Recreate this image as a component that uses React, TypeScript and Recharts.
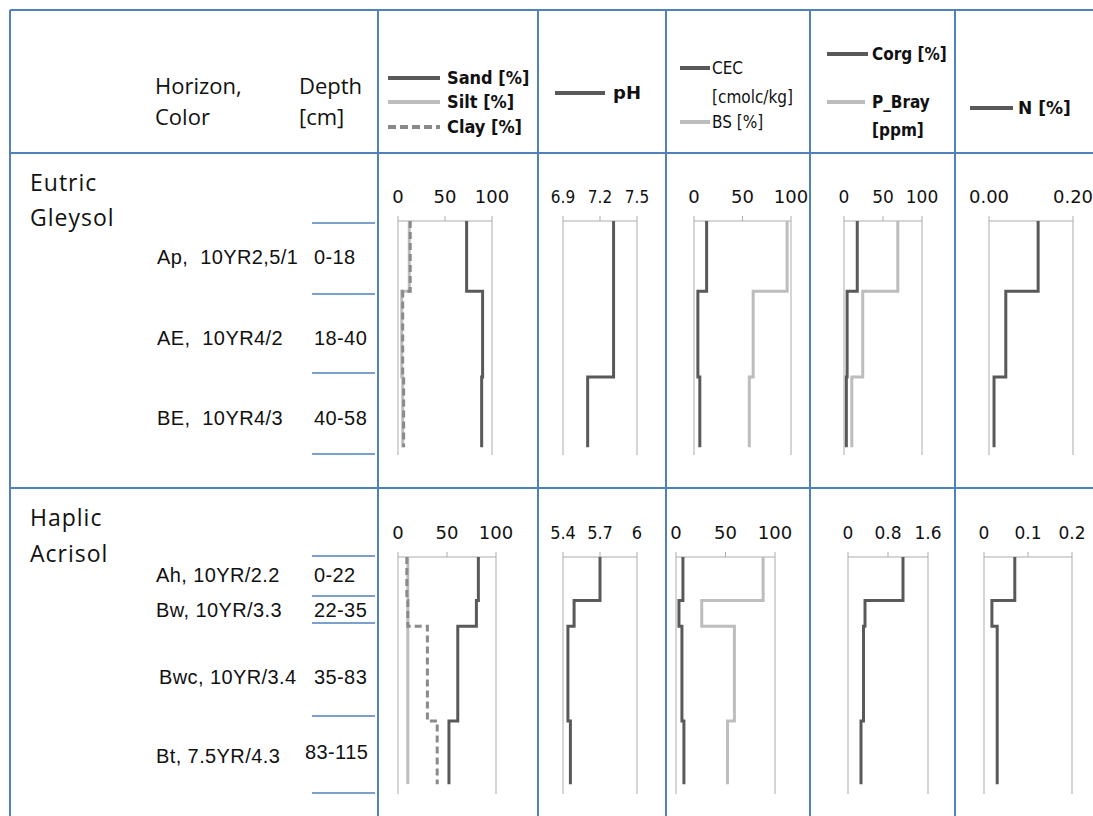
import { ScatterChart, Scatter, XAxis, YAxis, ReferenceLine } from "recharts";

// depth boundaries [cm] and values per horizon
const GLEY_DEPTH = [0, 18, 40, 58];
const GLEY_SAND = [73, 90, 89];
const GLEY_SILT = [12, 4, 5];
const GLEY_CLAY = [13, 5, 6];
const GLEY_PH = [7.31, 7.31, 7.1];
const GLEY_CEC = [13, 4, 6];
const GLEY_BS = [96, 61, 57];
const GLEY_CORG = [17, 4, 3];
const GLEY_PBRAY = [69, 24, 10];
const GLEY_N = [0.117, 0.04, 0.012];

const ACRI_DEPTH = [0, 22, 35, 83, 115];
const ACRI_SAND = [82, 80, 61, 52];
const ACRI_SILT = [10, 10, 10, 10];
const ACRI_CLAY = [9, 10, 30, 40];
const ACRI_PH = [5.7, 5.49, 5.44, 5.46];
const ACRI_CEC = [7, 3, 6, 8];
const ACRI_BS = [88, 26, 59, 52];
const ACRI_CORG = [1.1, 0.34, 0.31, 0.26];
const ACRI_N = [0.07, 0.018, 0.03, 0.03];

const GLEY_HORIZONS = ["Ap,\u00a0 10YR2,5/1", "AE,\u00a0 10YR4/2", "BE,\u00a0 10YR4/3"];
const GLEY_RANGES = ["0-18", "18-40", "40-58"];
const ACRI_HORIZONS = ["Ah, 10YR/2.2", "Bw, 10YR/3.3", "Bwc, 10YR/3.4", "Bt, 7.5YR/4.3"];
const ACRI_RANGES = ["0-22", "22-35", "35-83", "83-115"];

const DARK = "#595959";
const LIGHT = "#BDBDBD";
const DASH = "#8A8A8A";
const AXIS = "#ABABAB";
const BLUE = "#4F81BD";
const TEXT = "#111";

const steps = (depths: number[], vals: number[]) =>
  vals.flatMap((v, i) => [
    { v, d: depths[i] },
    { v, d: depths[i + 1] },
  ]);

type Series = { vals: number[]; color: string; dash?: string };

function Profile({
  x0, x1, yTop, yBot, domain, ticks, fmt, depths, depthMax, series, font, size,
}: {
  x0: number; x1: number; yTop: number; yBot: number;
  domain: [number, number]; ticks: number[]; fmt: (n: number) => string;
  depths: number[]; depthMax: number; series: Series[]; font?: string; size?: number;
}) {
  const ML = 22, MR = 26, AX = 40, MB = 4;
  const w = x1 - x0 + ML + MR;
  const h = yBot - yTop + AX + MB;
  return (
    <div style={{ position: "absolute", left: x0 - ML, top: yTop - AX }}>
      <ScatterChart width={w} height={h} margin={{ top: 0, right: MR, bottom: MB, left: ML }}>
        <XAxis
          type="number" dataKey="v" domain={domain} ticks={ticks} orientation="top"
          height={AX} tickSize={5} tickMargin={13} interval={0} allowDataOverflow
          axisLine={{ stroke: AXIS }} tickLine={{ stroke: AXIS }}
          tick={{ fill: TEXT, fontSize: size ?? 18, fontFamily: font ?? "DejaVu Sans" }}
          tickFormatter={fmt}
        />
        <YAxis type="number" dataKey="d" domain={[0, depthMax]} reversed hide />
        <ReferenceLine x={domain[0]} stroke={AXIS} />
        <ReferenceLine x={domain[1]} stroke={AXIS} />
        {series.map((s, i) => (
          <Scatter
            key={i}
            data={steps(depths, s.vals)}
            line={{ stroke: s.color, strokeWidth: 3, strokeDasharray: s.dash }}
            shape={() => <g />}
            isAnimationActive={false}
          />
        ))}
      </ScatterChart>
    </div>
  );
}

const str = (n: number) => String(n);

export default function App() {
  const vlines = [10, 378, 538, 666, 810, 955];
  const hlines = [10, 153, 488];
  const gleyMarks = [223, 294, 373, 454];
  const acriMarks = [556, 596, 623, 716, 793];
  const gleyBase = [264, 345, 425];
  const acriBase = [582, 617, 684, 763];
  const acriRangeBase = [582, 617, 684, 759];
  const G = { yTop: 221, yBot: 455, depths: GLEY_DEPTH, depthMax: 60 };
  const A = { yTop: 557, yBot: 794, depths: ACRI_DEPTH, depthMax: 120 };
  const cond = "DejaVu Sans Condensed";
  return (
    <div style={{ position: "absolute", left: 0, top: 0, width: 1093, height: 816, overflow: "hidden", background: "#fff" }}>
      <svg width={1093} height={816} style={{ position: "absolute", left: 0, top: 0 }}>
        {hlines.map((y) => (
          <line key={y} x1={10} x2={1093} y1={y} y2={y} stroke={BLUE} strokeWidth={2} />
        ))}
        {vlines.map((x) => (
          <line key={x} x1={x} x2={x} y1={10} y2={816} stroke={BLUE} strokeWidth={2} />
        ))}
        {[...gleyMarks, ...acriMarks].map((y) => (
          <line key={y} x1={312} x2={375} y1={y} y2={y} stroke={BLUE} strokeWidth={1.5} />
        ))}

        <g fontFamily="Open Sans" fontSize={22} fill={TEXT}>
          <text x={155} y={94}>Horizon,</text>
          <text x={155} y={125}>Color</text>
          <text x={299} y={94}>Depth</text>
          <text x={299} y={125}>[cm]</text>
          <text x={30} y={191} fontSize={23} letterSpacing={1}>Eutric</text>
          <text x={30} y={226} fontSize={23} letterSpacing={1}>Gleysol</text>
          <text x={30} y={526} fontSize={23} letterSpacing={1}>Haplic</text>
          <text x={30} y={562} fontSize={23} letterSpacing={1}>Acrisol</text>
        </g>

        <g fontFamily="Liberation Sans" fontSize={20} fill={TEXT} letterSpacing={0.4}>
          {GLEY_HORIZONS.map((t, i) => (
            <text key={t} x={157} y={gleyBase[i]}>{t}</text>
          ))}
          {GLEY_RANGES.map((t, i) => (
            <text key={t} x={314} y={gleyBase[i]}>{t}</text>
          ))}
          {ACRI_HORIZONS.map((t, i) => (
            <text key={t} x={i === 2 ? 159 : 156} y={acriBase[i]}>{t}</text>
          ))}
          {ACRI_RANGES.map((t, i) => (
            <text key={t} x={i === 3 ? 305 : 314} y={acriRangeBase[i]}>{t}</text>
          ))}
        </g>

        {/* legends */}
        <line x1={388} x2={440} y1={78} y2={78} stroke={DARK} strokeWidth={4} />
        <line x1={388} x2={440} y1={102} y2={102} stroke={LIGHT} strokeWidth={4} />
        <line x1={388} x2={440} y1={127} y2={127} stroke={DASH} strokeWidth={4} strokeDasharray="8 4" />
        <g fontFamily={cond} fontWeight="bold" fontSize={18} fill={TEXT}>
          <text x={447} y={84}>Sand [%]</text>
          <text x={447} y={108}>Silt [%]</text>
          <text x={447} y={133}>Clay [%]</text>
        </g>

        <line x1={555} x2={605} y1={93} y2={93} stroke={DARK} strokeWidth={4} />
        <text x={613} y={99} fontFamily="DejaVu Sans" fontWeight="bold" fontSize={18} fill={TEXT}>pH</text>

        <line x1={680} x2={710} y1={68} y2={68} stroke={DARK} strokeWidth={4} />
        <line x1={680} x2={710} y1={122} y2={122} stroke={LIGHT} strokeWidth={4} />
        <g fontFamily={cond} fontSize={17} fill={TEXT}>
          <text x={712} y={74}>CEC</text>
          <text x={712} y={103}>[cmolc/kg]</text>
          <text x={712} y={128}>BS [%]</text>
        </g>

        <line x1={827} x2={868} y1={54} y2={54} stroke={DARK} strokeWidth={4} />
        <line x1={827} x2={865} y1={102} y2={102} stroke={LIGHT} strokeWidth={4} />
        <g fontFamily={cond} fontWeight="bold" fontSize={17} fill={TEXT}>
          <text x={872} y={60}>Corg [%]</text>
          <text x={872} y={108}>P_Bray</text>
          <text x={872} y={136}>[ppm]</text>
        </g>

        <line x1={970} x2={1013} y1={108} y2={108} stroke={DARK} strokeWidth={4} />
        <text x={1018} y={114} fontFamily="DejaVu Sans" fontWeight="bold" fontSize={17} fill={TEXT}>N [%]</text>
      </svg>

      {/* Eutric Gleysol */}
      <Profile {...G} x0={398} x1={492} domain={[0, 100]} ticks={[0, 50, 100]} fmt={str}
        series={[
          { vals: GLEY_SAND, color: DARK },
          { vals: GLEY_SILT, color: LIGHT },
          { vals: GLEY_CLAY, color: DASH, dash: "7 4" },
        ]} />
      <Profile {...G} x0={563} x1={637} domain={[6.9, 7.5]} ticks={[6.9, 7.2, 7.5]} fmt={str} font={cond} size={17}
        series={[{ vals: GLEY_PH, color: DARK }]} />
      <Profile {...G} x0={694} x1={791} domain={[0, 100]} ticks={[0, 50, 100]} fmt={str}
        series={[
          { vals: GLEY_CEC, color: DARK },
          { vals: GLEY_BS, color: LIGHT },
        ]} />
      <Profile {...G} x0={844} x1={922} domain={[0, 100]} ticks={[0, 50, 100]} fmt={str} size={17}
        series={[
          { vals: GLEY_CORG, color: DARK },
          { vals: GLEY_PBRAY, color: LIGHT },
        ]} />
      <Profile {...G} x0={989} x1={1073} domain={[0, 0.2]} ticks={[0, 0.2]} fmt={(n) => n.toFixed(2)}
        series={[{ vals: GLEY_N, color: DARK }]} />

      {/* Haplic Acrisol */}
      <Profile {...A} x0={398} x1={496} domain={[0, 100]} ticks={[0, 50, 100]} fmt={str}
        series={[
          { vals: ACRI_SAND, color: DARK },
          { vals: ACRI_SILT, color: LIGHT },
          { vals: ACRI_CLAY, color: DASH, dash: "7 4" },
        ]} />
      <Profile {...A} x0={563} x1={637} domain={[5.4, 6]} ticks={[5.4, 5.7, 6]} fmt={str} font={cond}
        series={[{ vals: ACRI_PH, color: DARK }]} />
      <Profile {...A} x0={676} x1={775} domain={[0, 100]} ticks={[0, 50, 100]} fmt={str}
        series={[
          { vals: ACRI_CEC, color: DARK },
          { vals: ACRI_BS, color: LIGHT },
        ]} />
      <Profile {...A} x0={848} x1={928} domain={[0, 1.6]} ticks={[0, 0.8, 1.6]} fmt={str} size={17}
        series={[{ vals: ACRI_CORG, color: DARK }]} />
      <Profile {...A} x0={984} x1={1072} domain={[0, 0.2]} ticks={[0, 0.1, 0.2]} fmt={str} size={17}
        series={[{ vals: ACRI_N, color: DARK }]} />
    </div>
  );
}
